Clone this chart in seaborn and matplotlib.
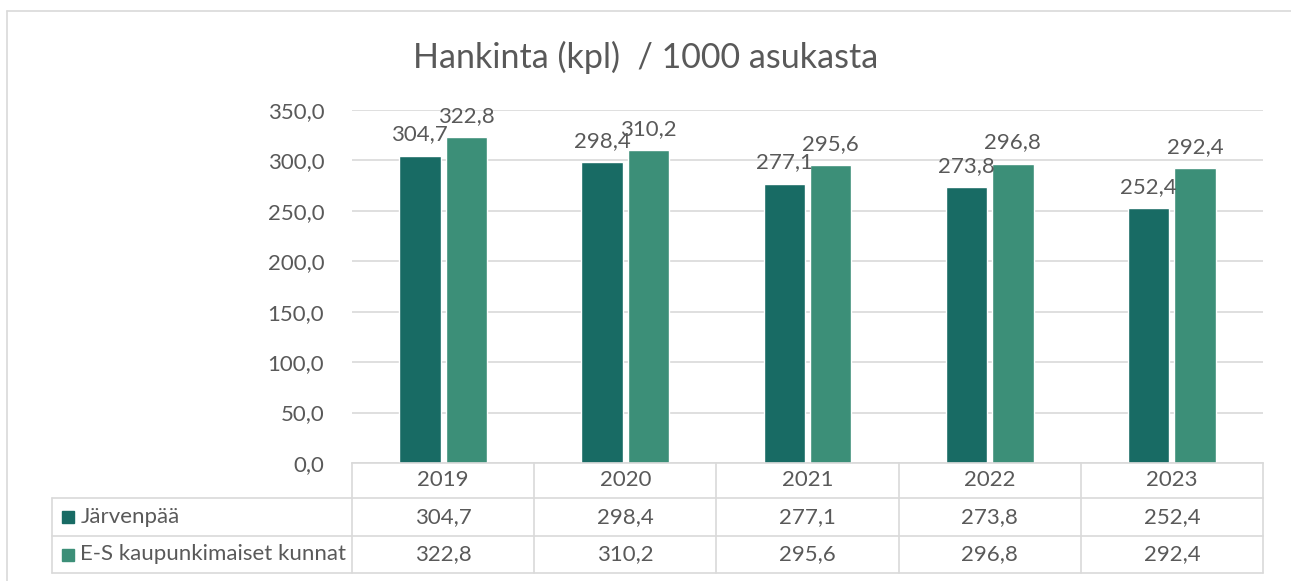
import pandas as pd
import matplotlib.pyplot as plt
import matplotlib.transforms as mtransforms
from matplotlib.ticker import FuncFormatter
import seaborn as sns

years = ["2019", "2020", "2021", "2022", "2023"]
jarvenpaa = [304.7, 298.4, 277.1, 273.8, 252.4]
es_kunnat = [322.8, 310.2, 295.6, 296.8, 292.4]
series_names = ["Järvenpää", "E-S kaupunkimaiset kunnat"]
colors = ["#186B64", "#3C8F78"]
title = "Hankinta (kpl)  / 1000 asukasta"

grey = "#595959"
line_grey = "#D9D9D9"
fs = 16

df = pd.DataFrame({
    "Vuosi": years * 2,
    "Arvo": jarvenpaa + es_kunnat,
    "Sarja": [series_names[0]] * 5 + [series_names[1]] * 5,
})


def fi(v):
    return f"{v:.1f}".replace(".", ",")


sns.set_style("white")
plt.rcParams["font.family"] = ["Lato", "DejaVu Sans"]

fig = plt.figure(figsize=(12.91, 5.81), dpi=100)
ax = fig.add_axes([352 / 1291, 118 / 581, 911 / 1291, 353 / 581])

sns.barplot(data=df, x="Vuosi", y="Arvo", hue="Sarja", hue_order=series_names,
            palette=colors, width=0.51, gap=0.11, ax=ax, legend=False,
            saturation=1, errorbar=None)

for cont in ax.containers:
    ax.bar_label(cont, labels=[fi(b.get_height()) for b in cont],
                 padding=8, fontsize=fs, color=grey)

ax.set_xlim(-0.5, 4.5)
ax.set_ylim(0, 350)
ax.set_yticks(range(0, 351, 50))
ax.yaxis.set_major_formatter(FuncFormatter(lambda v, p: fi(v)))
ax.tick_params(axis="y", length=0, pad=20, labelsize=fs, labelcolor=grey)
ax.set_xticks([])
ax.set_xlabel("")
ax.set_ylabel("")
ax.grid(axis="y", color=line_grey, linewidth=1.2)
ax.set_axisbelow(True)
for s in ["top", "right", "left"]:
    ax.spines[s].set_visible(False)
ax.spines["bottom"].set_color(line_grey)
ax.spines["bottom"].set_linewidth(1.2)

# data table below the axis
tr = mtransforms.blended_transform_factory(ax.transData, ax.transAxes)
x_left = -0.5 - 300 / 182.2
y_hdr, y_r1, y_r2 = -35 / 353, -73 / 353, -110 / 353
lk = dict(color=line_grey, linewidth=1.2, transform=tr, clip_on=False)
for i in range(6):
    ax.plot([i - 0.5, i - 0.5], [0, y_r2], **lk)
ax.plot([x_left, x_left], [y_hdr, y_r2], **lk)
for yy in [y_hdr, y_r1, y_r2]:
    ax.plot([x_left, 4.5], [yy, yy], **lk)

for i, yr in enumerate(years):
    ax.text(i, y_hdr / 2, yr, transform=tr, ha="center", va="center",
            fontsize=fs, color=grey)
rows = [(jarvenpaa, (y_hdr + y_r1) / 2), (es_kunnat, (y_r1 + y_r2) / 2)]
for k, (vals, yc) in enumerate(rows):
    for i, v in enumerate(vals):
        ax.text(i, yc, fi(v), transform=tr, ha="center", va="center",
                fontsize=fs, color=grey)
    ax.plot([x_left + 0.09], [yc], marker="s", markersize=9, color=colors[k],
            transform=tr, clip_on=False)
    ax.text(x_left + 0.155, yc, series_names[k], transform=tr, ha="left",
            va="center", fontsize=fs, color=grey)

fig.text(0.5, 1 - 57 / 581, title, ha="center", va="center", fontsize=24.5,
         color=grey)

# outer chart border
fig.add_artist(plt.Line2D([7 / 1291, 7 / 1291], [0, 1 - 11 / 581],
                          transform=fig.transFigure, color=line_grey, linewidth=1.2))
fig.add_artist(plt.Line2D([7 / 1291, 1], [1 - 11 / 581, 1 - 11 / 581],
                          transform=fig.transFigure, color=line_grey, linewidth=1.2))

fig.savefig("out.png", dpi=100)
